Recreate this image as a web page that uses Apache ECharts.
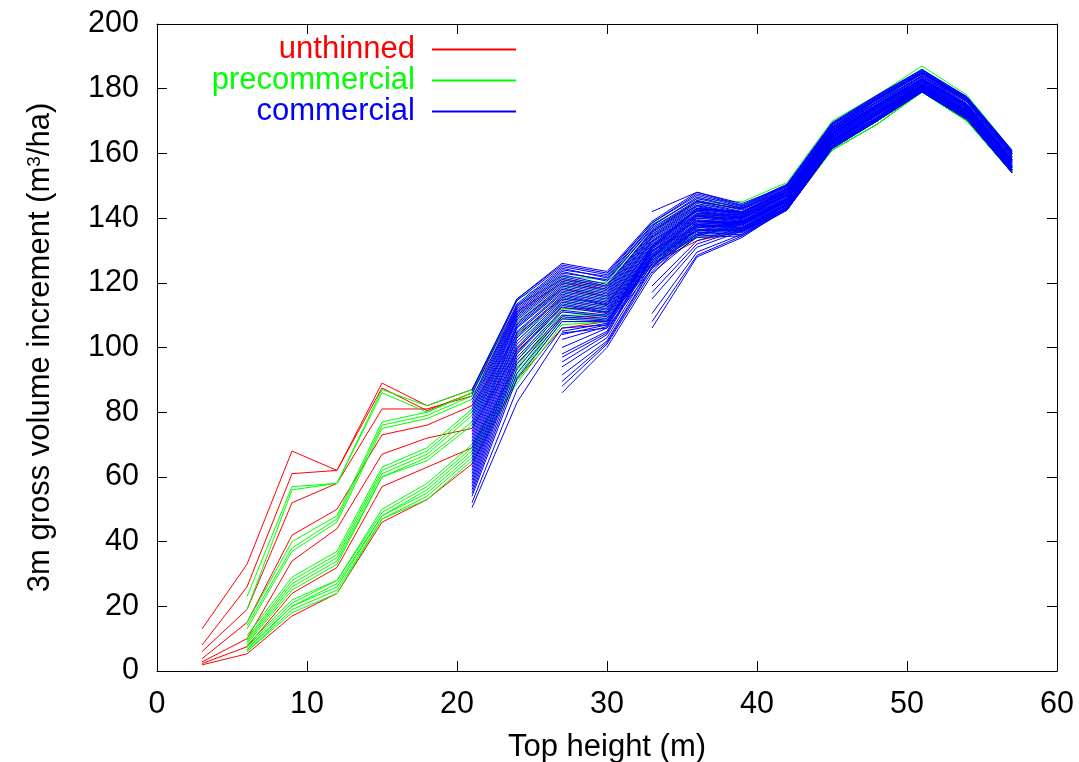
<!DOCTYPE html>
<html>
<head>
<meta charset="utf-8">
<script src="https://cdn.jsdelivr.net/npm/echarts@6/dist/echarts.min.js"></script>
<style>
html,body{margin:0;padding:0;background:#fff;}
#chart{width:1079px;height:762px;}
</style>
</head>
<body>
<div id="chart"></div>
<script>
// Top heights (m) at which increments are reported
const topHeights = [3,6,9,12,15,18,21,24,27,30,33,36,39,42,45,48,51,54,57];

// Unthinned stands (start at top height 3)
const unthinned = [
  [13, 33, 68, 62, 89, 82, 87, 113, 121, 119, 136, 145, 143, 149, 167, 176, 185, 177, 160],
  [8, 26, 61, 62, 87.5, 80.5, 86, 111, 120, 118, 135, 143, 142, 148, 166, 175, 184, 176, 159],
  [6, 19, 52, 58, 81, 81, 85, 108, 118, 116, 133, 141, 141, 147, 165, 174, 183, 175, 158],
  [3.8, 15, 42, 50, 73, 76, 82, 104, 115, 114, 131, 139, 140, 146, 164, 172, 182, 174, 157],
  [2.8, 10, 34, 44, 67, 72, 75, 99, 112, 112, 130, 137, 139, 145, 163, 171, 181, 173, 156],
  [2.3, 7.5, 24, 32, 57, 63, 69, 95, 109, 110, 128, 135, 137, 144, 162, 170, 180, 171, 155],
  [1.9, 5.3, 17, 24, 46, 53, 64, 90, 106, 108, 126, 133, 136, 142.5, 161, 169, 179, 170, 154]
];

// Precommercial thinning (start at top height 6)
const precommercial = [
  [23, 57, 58, 87, 82, 87, 115, 122, 121, 138, 146, 145, 151, 170, 178, 187, 178, 161],
  [19, 56, 58, 86, 80, 86, 113, 121, 120, 137, 145, 144, 150, 169, 177, 186, 177, 160],
  [15, 40, 48, 77, 80, 86, 110, 120, 119, 136, 144, 143, 149, 168, 176, 185, 176, 159],
  [14, 38, 47, 76, 79, 85, 108, 119, 118, 135, 143, 142, 148, 167, 175, 184, 175, 158],
  [13, 37, 46, 75, 78, 84, 106, 118, 117, 134, 142, 141, 147, 166, 174, 183, 174, 157],
  [11, 29, 37, 63, 69, 81, 104, 117, 116, 133, 141, 141, 147, 165, 173, 182, 174, 157],
  [10, 28, 36, 62, 68, 80, 102, 116, 115, 132, 140, 140, 146, 164, 172, 181, 173, 156],
  [9.5, 27, 35, 61, 67, 79, 100, 115, 114, 131, 139, 139, 146, 164, 172, 181, 173, 156],
  [9, 26, 34, 60, 66, 77, 98, 114, 113, 130, 138, 139, 145, 163, 171, 180, 172, 155],
  [8.5, 25, 33, 60, 65, 76, 96, 113, 112, 129, 137, 138, 145, 163, 171, 180, 172, 155],
  [8, 22, 28, 50, 58, 70, 94, 112, 111, 129, 136, 138, 144, 162, 170, 180, 171, 155],
  [7.5, 21, 28, 49, 57, 69, 93, 111, 110, 128, 136, 137, 144, 162, 170, 179, 171, 154],
  [7, 20, 27, 48, 56, 68, 92, 110, 110, 128, 135, 137, 143, 161, 169, 179, 170, 154],
  [6.5, 20, 26, 48, 55, 67, 91, 109, 109, 127, 135, 137, 143, 161, 169, 179, 170, 154],
  [6, 19, 25, 47, 54, 66, 90, 108, 108, 127, 134, 136, 143, 161, 169, 179, 170, 154],
  [6, 18, 24, 47, 53, 65, 89, 107, 108, 126, 134, 136, 143, 161, 169, 179, 170, 154]
];

// Commercial thinning, curves starting at top height 21
const commercialFrom21 = [
  [87, 115, 126, 123.5, 139, 148, 144, 150.5, 169.5, 178, 186, 177.5, 161],
  [86.5, 115, 125.5, 123, 138.5, 147.5, 143.8, 150.2, 169.2, 177.8, 185.8, 177.2, 160.8],
  [85.5, 114.5, 125, 122.5, 138.5, 147, 143.5, 150, 169, 177.5, 185.5, 177, 160.5],
  [84, 113.5, 124.5, 121.5, 137.5, 146.5, 143, 149.5, 168.5, 177, 185, 176.5, 160],
  [83, 113, 124, 122, 137.8, 146, 143.2, 149.8, 168.8, 177.2, 185.2, 176.8, 160.2],
  [82, 112.5, 123.5, 120.5, 137, 145.5, 142.5, 149, 168, 176.5, 184.5, 176, 159.5],
  [81, 112, 123, 121, 136.5, 145.2, 142.8, 149.2, 168.2, 176.8, 184.8, 176.2, 159.8],
  [80, 111.5, 122.5, 119.5, 136, 145, 142, 148.5, 167.5, 176, 184, 175.5, 159],
  [79, 111, 122, 119, 135.8, 144.5, 141.8, 148.2, 167.2, 175.8, 183.8, 175.2, 158.8],
  [78, 110.5, 121.5, 118.5, 135.5, 144, 141.5, 148, 167, 175.5, 183.5, 175, 158.5],
  [77, 110, 121, 118, 135, 143.8, 141.2, 147.8, 166.8, 175.2, 183.2, 174.8, 158.2],
  [76, 109.5, 120.5, 117.5, 134.5, 143.5, 141, 147.5, 166.5, 175, 183, 174.5, 158],
  [75, 109, 120, 117, 134.2, 143, 140.8, 147.2, 166.2, 174.8, 182.8, 174.2, 157.8],
  [74, 108.5, 119.5, 116.5, 134, 142.5, 140.5, 147, 166, 174.5, 182.5, 174, 157.5],
  [73, 107.5, 119, 116, 133.5, 142.2, 140.2, 146.8, 165.8, 174.2, 182.2, 173.8, 157.2],
  [72, 107, 118.5, 115.5, 133, 142, 140, 146.5, 165.5, 174, 182, 173.5, 157],
  [71, 106.5, 118, 115, 132.8, 141.5, 139.8, 146.2, 165.2, 173.8, 181.8, 173.2, 156.8],
  [70, 106, 117.5, 114.5, 132.5, 141, 139.5, 146, 165, 173.5, 181.5, 173, 156.5],
  [69, 105, 117, 114, 132, 140.8, 139.2, 145.8, 164.8, 173.2, 181.2, 172.8, 156.2],
  [68, 104.5, 116.5, 113.5, 131.5, 140.5, 139, 145.5, 164.5, 173, 181, 172.5, 156],
  [67, 103.5, 116, 113.2, 131.2, 140, 138.8, 145.2, 164.2, 172.8, 180.8, 172.2, 155.8],
  [66, 103, 115.5, 113, 131, 139.5, 138.5, 145, 164, 172.5, 180.5, 172, 155.5],
  [65, 102, 115, 112.5, 130.5, 139.2, 138.2, 144.8, 163.8, 172.2, 180.6, 172, 155.6],
  [64, 101, 114.5, 112, 130, 139, 138, 144.5, 163.5, 172, 180.5, 172, 155.5],
  [63, 100, 114, 111.5, 129.8, 138.5, 137.8, 144.2, 163.2, 171.8, 180.2, 171.8, 155.2],
  [62, 99.5, 113.5, 111, 129.5, 138, 137.5, 144, 163, 171.5, 180, 171.5, 155],
  [61, 98.5, 113, 110.8, 129, 137.8, 137.2, 143.8, 162.8, 171.2, 180, 171.5, 155],
  [60, 98, 112.5, 110.5, 128.5, 137.5, 137, 143.5, 162.5, 171, 180, 171.5, 155],
  [59, 97, 111.5, 110, 128.2, 137, 136.8, 143.2, 162.2, 170.8, 179.8, 171.2, 154.8],
  [58, 96, 111, 109.5, 128, 136.5, 136.5, 143, 162, 170.5, 179.5, 171, 154.5],
  [57, 95, 110, 109, 127.5, 136.2, 136.2, 143, 162, 170.5, 179.5, 171, 154.6],
  [56, 93.5, 109.5, 108.5, 127, 136, 136, 143, 162, 170.5, 179.5, 171, 154.5],
  [55, 92, 108.8, 108.2, 126.5, 135.5, 135.8, 142.8, 161.8, 170.2, 179.2, 170.8, 154.5],
  [54, 90.5, 108, 108, 126, 135, 135.5, 142.5, 161.5, 170, 179, 170.5, 154.5],
  [52, 87, 106, 107, 125.5, 134.5, 135, 142.5, 161.5, 170, 179, 170.5, 154],
  [50.5, 83, 104.5, 106, 124.5, 134, 134.5, 142.5, 161.5, 170, 179, 170.5, 154]
];

// Commercial thinning, curves starting at top height 27
const commercialFrom27 = [
  [105, 107.5, 131.5, 143, 142, 149, 168, 177, 185, 177, 160],
  [104, 107, 131, 142.8, 141.8, 148.8, 167.8, 176.8, 184.8, 176.8, 159.8],
  [102.5, 106.5, 130.5, 142.5, 141.5, 148.5, 167.5, 176.5, 184.5, 176.5, 159.5],
  [100, 106, 129.5, 141.5, 141, 148, 167, 176, 184, 176, 159],
  [98, 105, 128.5, 141, 140.5, 147.5, 166.5, 175, 183, 175, 158],
  [97, 104.5, 128, 140.5, 140.2, 147.2, 166.2, 174.8, 182.8, 174.8, 157.8],
  [95.5, 104, 127.5, 140, 140, 147, 166, 174.5, 182.5, 174.5, 157.5],
  [94, 103, 126, 139, 139, 146, 165, 173.5, 181.5, 173.5, 156.5],
  [91.5, 102, 125, 138.5, 138.8, 145.8, 164.5, 173, 181.2, 173.2, 156.2],
  [89.5, 101.5, 124.5, 138, 138.5, 145.5, 164, 172.5, 181, 173, 156],
  [88, 101, 123.5, 137.5, 138.2, 145.2, 163.5, 172.2, 180.5, 172.5, 155.5],
  [86, 100, 122.5, 137, 138, 145, 163, 172, 180, 172, 155]
];

// Commercial thinning, curves starting at top height 33
const commercialFrom33 = [
  [142, 148, 144.5, 150, 169, 177.5, 185.5, 177.5, 160.5],
  [127, 136, 139, 146, 166, 175, 183, 175, 158],
  [125, 135, 138.5, 145.8, 165.5, 174.5, 182.5, 174.5, 157.5],
  [123, 134.5, 138, 145.5, 165, 174, 182, 174, 157],
  [119, 133, 137, 144.5, 164, 173, 181, 173, 156],
  [117, 132, 136.5, 144.2, 163.5, 172.5, 180.8, 172.8, 155.8],
  [115, 131, 136, 144, 163, 172, 180.5, 172.5, 155.5],
  [110.5, 129.5, 135, 143.5, 162.5, 171, 180, 172, 155],
  [108, 128.5, 134.5, 143.2, 162.2, 170.8, 179.8, 171.8, 154.8],
  [106, 128, 134, 143, 162, 170.5, 179.5, 171.5, 154.5]
];

const xTicks = {min: 0, max: 60, interval: 10};
const yTicks = {min: 0, max: 200, interval: 20};

const FONT = "'Liberation Sans', Arial, Helvetica, sans-serif";
const RED = '#ff0000', GREEN = '#00ff00', BLUE = '#0000ff';
const FS = 31;

function toPoints(values, startHeight) {
  const off = topHeights.indexOf(startHeight);
  return values.map((v, i) => [topHeights[off + i], v]);
}

const series = [];
function addGroup(rows, start, name, color) {
  rows.forEach(r => {
    series.push({
      type: 'line', name: name, data: toPoints(r, start),
      symbol: 'none', showSymbol: false, silent: true,
      lineStyle: {color: color, width: 1},
      itemStyle: {color: color},
      z: 2
    });
  });
}
addGroup(unthinned, 3, 'unthinned', RED);
addGroup(precommercial, 6, 'precommercial', GREEN);
addGroup(commercialFrom21, 21, 'commercial', BLUE);
addGroup(commercialFrom27, 27, 'commercial', BLUE);
addGroup(commercialFrom33, 33, 'commercial', BLUE);

function legendFor(name, color, top) {
  return {
    data: [name], right: 562, top: top, orient: 'horizontal', align: 'right',
    itemWidth: 84, itemHeight: 14, padding: 0, selectedMode: false,
    itemStyle: {opacity: 0},
    textStyle: {color: color, fontSize: FS, fontFamily: FONT, padding: [0, 12, 0, 0]}
  };
}

const axisLineStyle = {show: true, onZero: false, lineStyle: {color: '#000', width: 1}};
const tickStyle = {show: true, inside: true, length: 10, lineStyle: {color: '#000', width: 1}};

const option = {
  animation: false,
  backgroundColor: '#fff',
  textStyle: {fontFamily: FONT},
  grid: {left: 157, right: 22, top: 24, bottom: 91, containLabel: false, outerBoundsMode: 'none'},
  legend: [
    legendFor('unthinned', RED, 34),
    legendFor('precommercial', GREEN, 65),
    legendFor('commercial', BLUE, 96)
  ],
  xAxis: [
    {
      type: 'value', position: 'bottom', min: xTicks.min, max: xTicks.max, interval: xTicks.interval,
      axisLine: axisLineStyle, axisTick: tickStyle, splitLine: {show: false},
      axisLabel: {fontSize: 30.5, color: '#000', margin: 18, fontFamily: FONT},
      name: 'Top height (m)', nameLocation: 'middle', nameGap: 61,
      nameTextStyle: {fontSize: FS, color: '#000', fontFamily: FONT}
    },
    {
      type: 'value', position: 'top', min: xTicks.min, max: xTicks.max, interval: xTicks.interval,
      axisLine: axisLineStyle, axisTick: tickStyle, splitLine: {show: false},
      axisLabel: {show: false}
    }
  ],
  yAxis: [
    {
      type: 'value', position: 'left', min: yTicks.min, max: yTicks.max, interval: yTicks.interval,
      axisLine: axisLineStyle, axisTick: tickStyle, splitLine: {show: false},
      axisLabel: {fontSize: 30.5, color: '#000', margin: 18, fontFamily: FONT},
      name: '3m gross volume increment (m{sup|3}/ha)', nameLocation: 'middle', nameGap: 101,
      nameTextStyle: {
        fontSize: FS, color: '#000', fontFamily: FONT,
        rich: {sup: {fontSize: 19, color: '#000', fontFamily: FONT, verticalAlign: 'top', lineHeight: 19}}
      }
    },
    {
      type: 'value', position: 'right', min: yTicks.min, max: yTicks.max, interval: yTicks.interval,
      axisLine: axisLineStyle, axisTick: tickStyle, splitLine: {show: false},
      axisLabel: {show: false}
    }
  ],
  series: series
};

const chart = echarts.init(document.getElementById('chart'), null, {renderer: 'canvas'});
chart.setOption(option);
</script>
</body>
</html>
